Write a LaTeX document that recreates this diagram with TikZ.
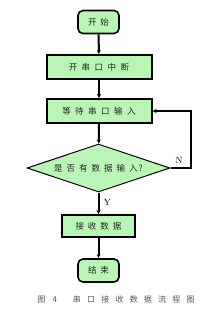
\documentclass[tikz,border=0pt]{standalone}
\usepackage{fontspec}
\newfontfamily\cjk{Noto Sans CJK SC}
\usetikzlibrary{shapes.geometric,arrows.meta}
\definecolor{boxgreen}{HTML}{B9F5B5}
\definecolor{captgray}{HTML}{555555}
\begin{document}
\begin{tikzpicture}[x=1pt,y=-1pt,
  every node/.style={font=\cjk\fontsize{8.5}{10}\selectfont, text=black!85},
  roundbox/.style={draw=black, line width=1.6pt, fill=boxgreen, rounded corners=5pt, minimum width=41pt, minimum height=23pt, inner sep=0pt},
  procbox/.style={draw=black, line width=2pt, fill=boxgreen, minimum height=24pt, inner sep=0pt},
  decbox/.style={draw=black, line width=1pt, fill=boxgreen, shape=diamond, aspect=3, minimum width=143pt, minimum height=48pt, inner sep=0pt},
  flow/.style={line width=2pt, -{Stealth[length=4pt,width=4pt]}},
  lbl/.style={font=\fontsize{9}{10}\selectfont, text=black}
]
\useasboundingbox (0,0) rectangle (208,316);
\node[roundbox] (start) at (98.5,22) {开\kern4pt 始};
\node[procbox, minimum width=105pt] (int) at (99,67) {开\kern4.5pt 串\kern4.5pt 口\kern4.5pt 中\kern4.5pt 断};
\node[procbox, minimum width=105pt] (wait) at (99,111) {等\kern4.5pt 待\kern4.5pt 串\kern4.5pt 口\kern4.5pt 输\kern4.5pt 入};
\node[decbox] (dec) at (98.5,168) {是\kern4pt 否\kern4pt 有\kern4pt 数\kern4pt 据\kern4pt 输\kern4pt 入\kern1pt ?};
\node[procbox, minimum width=73pt, minimum height=22pt] (recv) at (98.5,226) {接\kern4pt 收\kern4pt 数\kern4pt 据};
\node[roundbox] (end) at (98.5,270.5) {结\kern4pt 束};
\coordinate (loopA) at (191,168);
\coordinate (loopB) at (191,111);
\draw[flow] (start) -- (int);
\draw[flow] (int) -- (wait);
\draw[flow] (wait) -- (dec);
\draw[flow] (dec) -- (recv) node[lbl, pos=0.45, right=1pt] {Y};
\draw[flow] (recv) -- (end);
\draw[line width=1.3pt, -{Stealth[length=4pt,width=4pt]}] (dec.east) -- (loopA) -- (loopB) -- (wait.east);
\node[lbl] (nlab) at (179,160) {N};
\node[font=\cjk\fontsize{8}{10}\selectfont, text=captgray, anchor=west] (cap) at (34,299) {图\kern7pt 4\kern16pt 串\kern6.2pt 口\kern6.2pt 接\kern6.2pt 收\kern6.2pt 数\kern6.2pt 据\kern6.2pt 流\kern6.2pt 程\kern6.2pt 图};
\end{tikzpicture}
\end{document}
